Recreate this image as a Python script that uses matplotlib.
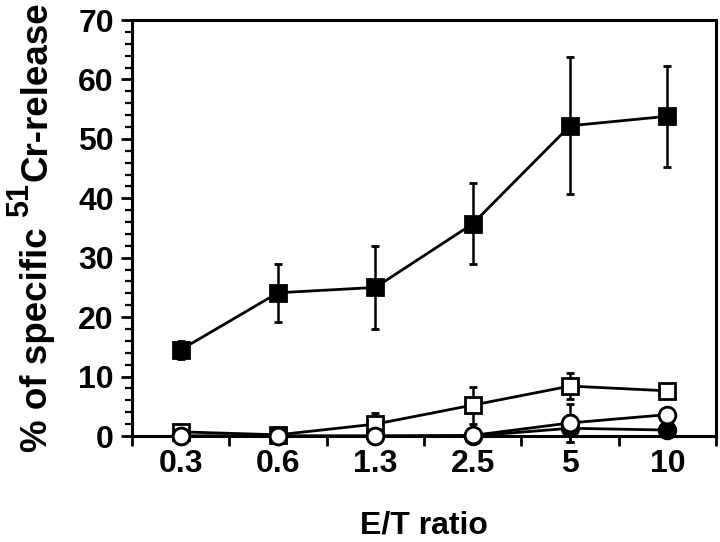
import matplotlib
matplotlib.use("Agg")
import matplotlib.pyplot as plt
import numpy as np

plt.rcParams['font.family'] = ['Liberation Sans', 'DejaVu Sans']
plt.rcParams['font.weight'] = 'bold'

categories = ["0.3", "0.6", "1.3", "2.5", "5", "10"]

filled_sq = [14.5, 24.1, 25.0, 35.7, 52.2, 53.8]
filled_sq_err = [1.5, 4.9, 7.0, 6.8, 11.5, 8.5]

open_sq = [0.7, 0.2, 2.0, 5.2, 8.4, 7.6]
open_sq_err = [0.3, 0.2, 1.8, 3.1, 2.2, 0.6]

open_circ = [0.0, 0.0, 0.0, 0.1, 2.2, 3.6]
open_circ_err = [0.0, 0.0, 0.0, 0.0, 3.2, 0.5]

filled_circ = [0.0, 0.0, 0.0, 0.0, 1.3, 1.0]
filled_circ_err = [0.0, 0.0, 0.0, 0.0, 2.3, 0.4]

W, H = 720, 542
fig = plt.figure(figsize=(W / 100, H / 100), dpi=100)
ax = fig.add_axes([132 / W, 1 - 436 / H, (716 - 132) / W, (436 - 20) / H])

x = np.arange(len(categories))
common = dict(color='black', lw=2.0, elinewidth=1.8, capsize=2.8, capthick=1.8,
              markersize=12, markeredgewidth=2.0, clip_on=False)

ax.errorbar(x, filled_circ, yerr=filled_circ_err, fmt='-o', mfc='black', mec='black', zorder=3, **common)
ax.errorbar(x, open_circ, yerr=open_circ_err, fmt='-o', mfc='white', mec='black', zorder=4, **common)
ax.errorbar(x, open_sq, yerr=open_sq_err, fmt='-s', mfc='white', mec='black', zorder=2, **common)
ax.errorbar(x, filled_sq, yerr=filled_sq_err, fmt='-s', mfc='black', mec='black', zorder=5, **common)

ax.set_xlim(-0.5, len(categories) - 0.5)
ax.set_ylim(0, 70)
ax.set_yticks(np.arange(0, 71, 10))
ax.set_yticks(np.arange(0, 71, 2), minor=True)
ax.set_xticks(x)
ax.set_xticklabels(categories)
ax.set_xticks(np.arange(-0.5, len(categories), 1), minor=True)

ax.tick_params(axis='x', which='major', length=0, labelsize=23, pad=9)
ax.tick_params(axis='x', which='minor', length=7, width=2.0, direction='out')
ax.tick_params(axis='y', which='major', length=8, width=2.0, direction='out', labelsize=23, pad=5)
ax.tick_params(axis='y', which='minor', length=5, width=1.6, direction='out')

for s in ax.spines.values():
    s.set_linewidth(2.2)

for lab in ax.get_xticklabels() + ax.get_yticklabels():
    lab.set_fontweight('bold')

ax.set_xlabel("E/T ratio", fontsize=23, fontweight='bold', labelpad=23)

# y-axis label built from pieces so the superscript keeps its large size
fs_main = 26.5
fs_sup = 22
base_x = 47 / W
sup_x = 28 / W
start_y = 1 - 452 / H
kw = dict(rotation=90, rotation_mode='anchor', ha='left', va='baseline', fontweight='bold')
t1 = fig.text(base_x, start_y, "% of specific", fontsize=fs_main, **kw)
fig.canvas.draw()
r = fig.canvas.get_renderer()
bb1 = t1.get_window_extent(r)
gap = 0.278 * fs_main * 100 / 72
y2 = (bb1.y1 + gap) / H
t2 = fig.text(sup_x, y2, "51", fontsize=fs_sup, **kw)
bb2 = t2.get_window_extent(r)
y3 = (bb2.y1 + 2) / H
t3 = fig.text(base_x, y3, "Cr-release", fontsize=fs_main, **kw)

fig.savefig("out.png", dpi=100)
